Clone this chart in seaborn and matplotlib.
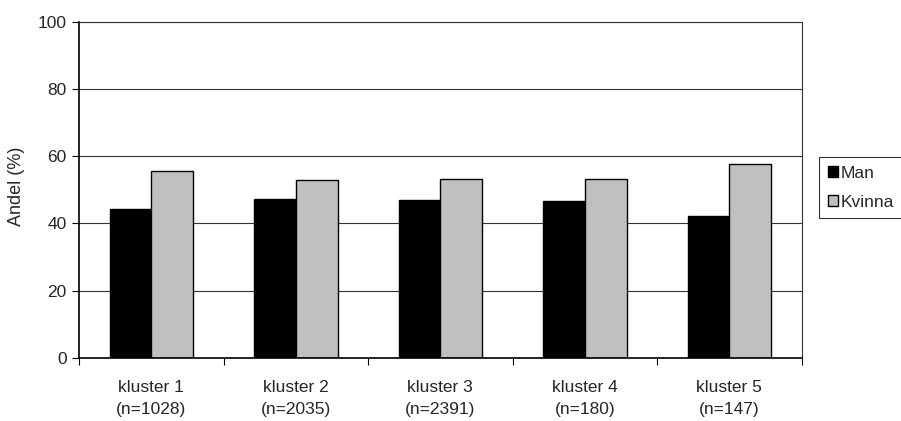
import matplotlib
matplotlib.use("Agg")
import matplotlib.pyplot as plt
import seaborn as sns
import pandas as pd
import numpy as np
from matplotlib.ticker import FixedLocator, NullFormatter

categories = ["kluster 1\n(n=1028)", "kluster 2\n(n=2035)", "kluster 3\n(n=2391)",
              "kluster 4\n(n=180)", "kluster 5\n(n=147)"]
man = [44.3, 47.2, 46.9, 46.7, 42.2]
kvinna = [55.7, 52.8, 53.1, 53.3, 57.8]
series = ["Man", "Kvinna"]

df = pd.DataFrame({
    "kluster": categories * 2,
    "kon": ["Man"] * len(categories) + ["Kvinna"] * len(categories),
    "andel": man + kvinna,
})

sns.set_theme(style="white")
plt.rcParams["font.family"] = ["Liberation Sans", "DejaVu Sans"]

fig = plt.figure(figsize=(9.01, 4.21), dpi=100)
ax = fig.add_axes([79 / 901, 1 - 357.7 / 421, (801.7 - 79) / 901, (357.7 - 22) / 421])

sns.barplot(data=df, x="kluster", y="andel", hue="kon", hue_order=series,
            palette={"Man": "#000000", "Kvinna": "#c0c0c0"},
            width=0.577, edgecolor="black", linewidth=1.0, ax=ax, legend=False)

ax.set_ylim(0, 100)
ax.set_xlim(-0.5, len(categories) - 0.5)
ax.set_yticks([0, 20, 40, 60, 80, 100])
ax.yaxis.grid(True, color="#333333", linewidth=0.8)
ax.set_axisbelow(True)

# category boundaries carry the tick marks, labels sit at the centres
ax.set_xticks(range(len(categories)))
ax.set_xticklabels(categories, fontsize=12.5, linespacing=1.55)
ax.tick_params(axis="x", which="major", length=0, pad=16)
ax.xaxis.set_minor_locator(FixedLocator(np.arange(-0.5, len(categories), 1.0)))
ax.xaxis.set_minor_formatter(NullFormatter())
ax.tick_params(axis="x", which="minor", length=5, width=0.8, color="black", direction="out", bottom=True)
ax.tick_params(axis="y", length=5, width=0.8, color="black", direction="out", left=True, labelsize=12.5, pad=4)

ax.set_xlabel("")
ax.set_ylabel("Andel (%)", fontsize=13)
ax.yaxis.set_label_coords(-0.0745, 0.51)

for side in ["left", "bottom"]:
    ax.spines[side].set_color("black")
    ax.spines[side].set_linewidth(1.2)
for side in ["top", "right"]:
    ax.spines[side].set_color("#333333")
    ax.spines[side].set_linewidth(0.8)

handles = [plt.Rectangle((0, 0), 1, 1, facecolor=c, edgecolor="black", linewidth=1.0)
           for c in ["#000000", "#c0c0c0"]]
leg = fig.legend(handles, series, loc="upper left", bbox_to_anchor=(819 / 901, 1 - 157 / 421),
                 frameon=True, fancybox=False, fontsize=12.5, handlelength=0.6, handleheight=0.6,
                 handletextpad=0.15, borderpad=0.5, labelspacing=0.8, borderaxespad=0)
leg.get_frame().set_edgecolor("black")
leg.get_frame().set_linewidth(0.8)

fig.savefig("out.png", dpi=100)
